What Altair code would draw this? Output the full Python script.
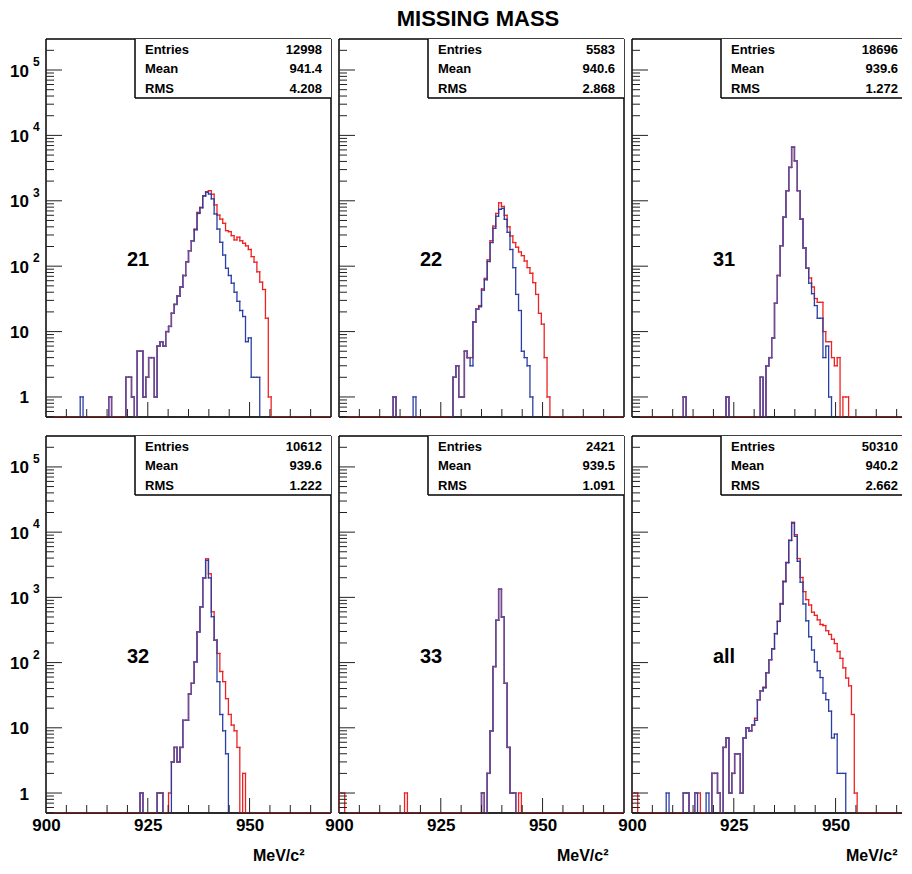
import altair as alt
import pandas as pd

FONT = "Liberation Sans"
RED = "#ee2222"
BLUE = "#2a3fa5"
BOTH = "#6e4c98"   # where the two histograms coincide

# ---------------- histogram binning ----------------
X_MIN, X_MAX = 900.0, 970.0
BIN_WIDTH = 0.7
N_BINS = 100
Y_MIN, Y_MAX = 0.494, 2.98e5
EMPTY = 0.3  # empty bins rest on the frame floor (clamped log scale)

# ---------------- data: counts per 0.7 MeV bin, starting at bin *_FROM ----------------
RED_21_FROM = 22
RED_21 = [1, 0, 0, 0, 0, 0, 2, 2, 1, 0, 5, 5, 1, 2, 4, 4, 1, 6,
          7, 6, 10, 12, 19, 26, 35, 48, 72, 117,
          173, 245, 370, 665, 795, 1200, 1380, 1430, 1260, 865,
          605, 525, 452, 350, 337, 293, 252, 277, 245, 224,
          205, 180, 140, 115, 82, 57, 44, 16, 1]
BLUE_21_FROM = 12
BLUE_21 = [1, 0, 0, 0, 0, 0, 0, 0, 0, 0, 1, 0, 0, 0, 0, 0,
           2, 2, 1, 0, 5, 5, 1, 2, 4, 4, 1, 6,
           7, 6, 10, 12, 19, 26, 35, 48, 72, 117,
           173, 245, 360, 640, 780, 1180, 1350, 1270, 1070, 630,
           370, 232, 148, 93, 72, 55, 40, 29, 21, 17,
           7, 8, 2, 2, 2]

RED_22_FROM = 19
RED_22 = [1, 0, 0, 0, 0, 0, 0, 0, 0, 0, 0, 0, 0, 0, 0, 0, 0, 0, 0, 0, 0,
          2, 3, 1, 1, 5, 4, 4, 14, 22, 25,
          45, 65, 125, 245, 410, 640, 930, 820, 600, 400,
          290, 230, 195, 165, 145, 120, 95, 78, 56, 37,
          19, 13, 4, 1]
BLUE_22_FROM = 19
BLUE_22 = [1, 0, 0, 0, 0, 0, 0, 1, 0, 0, 0, 0, 0, 0, 0, 0, 0, 0, 0, 0, 0,
           2, 3, 1, 1, 5, 4, 3, 14, 22, 24,
           43, 62, 118, 230, 380, 580, 740, 767, 520, 330,
           180, 95, 37, 21, 5, 4, 3, 1]

RED_31_FROM = 18
RED_31 = [1, 0, 0, 0, 0, 0, 0, 0, 0, 0, 0, 0, 0, 0, 0, 1,
          0, 0, 0, 0, 0, 0, 0, 0, 0, 0, 0,
          2, 0, 3, 4, 8, 27, 72, 206, 560, 1430,
          3240, 6600, 4100, 1430, 525, 190, 93, 66, 48, 32,
          28, 28, 10, 7, 7, 4, 3, 4, 0, 1, 1]
BLUE_31_FROM = 18
BLUE_31 = [1, 0, 0, 0, 0, 0, 0, 0, 0, 0, 0, 0, 0, 0, 0, 1,
           0, 0, 0, 0, 0, 0, 0, 0, 0, 0, 0,
           2, 0, 3, 4, 8, 27, 72, 206, 560, 1430,
           3240, 6600, 4100, 1430, 525, 190, 93, 55, 38, 25,
           16, 16, 4, 6, 1]

RED_32_FROM = 33
RED_32 = [1, 0, 0, 0, 0, 0, 1, 1, 0, 0, 1,
          3, 5, 3, 5, 13, 13, 33, 48, 103, 297,
          715, 1990, 3900, 2300, 600, 220, 138, 73, 51, 28,
          16, 11, 9, 5, 0, 2]
BLUE_32_FROM = 33
BLUE_32 = [1, 0, 0, 0, 0, 0, 1, 1, 0, 0, 0,
           3, 5, 3, 5, 13, 13, 33, 48, 103, 297,
           715, 1990, 3700, 1990, 505, 220, 51, 16, 9, 4]

RED_33_FROM = 0
RED_33 = [1, 1, 0, 0, 0, 0, 0, 0, 0, 0, 0, 0, 0, 0, 0, 0, 0, 0, 0, 0, 0, 0, 0,
          1, 0, 0, 0, 0, 0, 0, 0, 0, 0, 0, 0, 0, 0, 0, 0, 0, 0, 0, 0, 0, 0, 0, 0, 0, 0, 0,
          1, 0, 2, 9, 87, 445, 1330, 500, 48, 5, 1, 1, 0, 1]
BLUE_33_FROM = 50
BLUE_33 = [1, 0, 2, 9, 87, 445, 1330, 500, 48, 5, 1, 1]

RED_ALL_FROM = 0
RED_ALL = [1, 1, 0, 0, 0, 0, 0, 0, 0, 0, 0, 0, 0, 0, 0, 0, 0, 0,
           1, 1, 0, 0, 1, 1, 0, 0, 0, 0,
           2, 2, 1, 0, 5, 7, 1, 2, 4, 4, 1, 7,
           10, 9, 11, 14, 27, 37, 42, 70, 111, 163,
           279, 430, 806, 1776, 3437, 7515, 14140, 9150, 3938, 2015,
           1224, 922, 764, 592, 530, 452, 384, 370, 308, 270,
           228, 196, 148, 116, 83, 58, 44, 16, 1]
BLUE_ALL_FROM = 12
BLUE_ALL = [1, 0, 0, 0, 0, 0,
            1, 1, 0, 0, 1, 0, 0, 0, 1, 0,
            2, 2, 1, 0, 5, 7, 1, 2, 4, 4, 1, 7,
            10, 9, 11, 13, 27, 37, 41, 70, 111, 162,
            277, 427, 789, 1736, 3392, 7435, 13720, 8627, 3573, 1710,
            792, 437, 249, 156, 102, 75, 59, 34, 27, 18,
            7, 8, 2, 2, 2]

STAT_NAMES = ["Entries", "Mean", "RMS"]
STATS_21 = ["12998", "941.4", "4.208"]
STATS_22 = ["5583", "940.6", "2.868"]
STATS_31 = ["18696", "939.6", "1.272"]
STATS_32 = ["10612", "939.6", "1.222"]
STATS_33 = ["2421", "939.5", "1.091"]
STATS_ALL = ["50310", "940.2", "2.662"]

Y_DECADES = [1, 10, 100, 1000, 10000, 100000]
Y_BASE = ["1", "10", "10", "10", "10", "10"]
Y_EXP = ["", "", "2", "3", "4", "5"]
Y_MINOR = [m * d for d in [0.1, 1, 10, 100, 1000, 10000, 100000]
           for m in range(2, 10) if Y_MIN < m * d < Y_MAX]
X_LABELS = [900, 925, 950]
X_MAJOR = [925, 950]
X_MINOR = [905, 910, 915, 920, 930, 935, 940, 945, 955, 960, 965]
TITLE = "MISSING MASS"
AXIS_TITLE = "MeV/c²"

W = 285                 # full panel width (70 MeV)
W_CUT = 270             # right column is cut by the page edge
PX_PER_MEV = W / (X_MAX - X_MIN)
ONE = pd.DataFrame({"k": [0]})


def full_counts(start, counts):
    out = [0] * N_BINS
    for i, c in enumerate(counts):
        out[start + i] = c
    return out


def step_segments(red, blue, x_hi):
    """Step-outline segments of both histograms; shared pieces tagged 'both'."""
    r = full_counts(*red)
    b = full_counts(*blue)
    edges = [min(X_MIN + BIN_WIDTH * i, x_hi) for i in range(N_BINS + 1)]
    lv = lambda c: c if c > 0 else EMPTY
    rows = {"red": [], "blue": [], "both": []}

    def add(tag, x1, x2, y1, y2):
        rows[tag].append({"s": tag, "x": x1, "x2": x2, "y": lv(y1), "y2": lv(y2)})

    for tag, own, other in (("red", r, b), ("blue", b, r)):
        for i in range(N_BINS):
            if own[i] > 0 or tag == "red":
                add(tag, edges[i], edges[i + 1], own[i], own[i])
            prev = own[i - 1] if i > 0 else 0
            if prev != own[i]:
                add(tag, edges[i], edges[i], prev, own[i])
    for i in range(N_BINS):
        if r[i] == b[i] and r[i] > 0:
            add("both", edges[i], edges[i + 1], r[i], r[i])
        pr = r[i - 1] if i > 0 else 0
        pb = b[i - 1] if i > 0 else 0
        if pr == pb and r[i] == b[i] and pr != r[i]:
            add("both", edges[i], edges[i], pr, r[i])
    return pd.DataFrame(rows["red"] + rows["blue"] + rows["both"])


def hrule(x0, x1, y, **kw):
    return alt.Chart(ONE).mark_rule(**kw).encode(x=alt.value(x0), x2=alt.value(x1), y=alt.value(y))


def vrule(x, y0, y1, **kw):
    return alt.Chart(ONE).mark_rule(**kw).encode(x=alt.value(x), y=alt.value(y0), y2=alt.value(y1))


def panel(name, red, blue, stats, height, first_col, bottom_row, cut=False,
          title_x=None, with_title=False):
    w = W_CUT if cut else W
    x_hi = X_MIN + w / PX_PER_MEV
    xs = alt.Scale(domain=[X_MIN, x_hi], nice=False, zero=False)
    ys = alt.Scale(type="log", domain=[Y_MIN, Y_MAX], nice=False, clamp=True)
    if bottom_row:
        xaxis = alt.Axis(values=X_LABELS, format="d", labelFont=FONT, labelFontSize=17,
                         labelFontWeight="bold", labelColor="black", labelPadding=12.5,
                         labelBaseline="middle", labelFlush=False, labelOverlap=False,
                         ticks=False, tickSize=0, domain=False, grid=False,
                         title=AXIS_TITLE, titleFont=FONT, titleFontSize=16,
                         titleFontWeight="bold", titleColor="black", titleAlign="right",
                         titleAnchor="end", titleX=title_x, titleY=42, titleBaseline="middle")
    else:
        xaxis = None

    def X(f):
        return alt.X(f, type="quantitative", scale=xs, axis=xaxis)

    def Y(f):
        return alt.Y(f, type="quantitative", scale=ys, axis=None)

    frame = dict(color="black", strokeWidth=1.5)
    layers = [hrule(0, w, 0, **frame), hrule(0, w, height, **frame), vrule(0, 0, height, **frame)]
    if not cut:
        layers.append(vrule(w, 0, height, **frame))
    layers.append(alt.Chart(step_segments(red, blue, x_hi)).mark_rule(
        strokeWidth=1.3, strokeCap="square", clip=True).encode(
        x=X("x"), x2="x2:Q", y=Y("y"), y2="y2:Q",
        color=alt.Color("s:N", scale=alt.Scale(domain=["red", "blue", "both"],
                                               range=[RED, BLUE, BOTH]), legend=None)))
    layers.append(hrule(0, w, height, color="black", strokeWidth=1.5, opacity=0.45))
    # y ticks (inside the frame)
    tick = dict(color="#222", strokeWidth=1)
    layers.append(alt.Chart(pd.DataFrame({"v": Y_DECADES})).mark_rule(**tick).encode(
        y=Y("v"), x=alt.value(0), x2=alt.value(16)))
    layers.append(alt.Chart(pd.DataFrame({"v": Y_MINOR})).mark_rule(**tick).encode(
        y=Y("v"), x=alt.value(0), x2=alt.value(8)))
    # x ticks
    layers.append(alt.Chart(pd.DataFrame({"v": X_MAJOR})).mark_rule(**tick).encode(
        x=X("v"), y=alt.value(height), y2=alt.value(height - 15)))
    layers.append(alt.Chart(pd.DataFrame({"v": X_MINOR})).mark_rule(**tick).encode(
        x=X("v"), y=alt.value(height), y2=alt.value(height - 8)))
    # statistics box
    layers.append(alt.Chart(ONE).mark_rect(fill="white").encode(
        x=alt.value(89), x2=alt.value(w), y=alt.value(0), y2=alt.value(59)))
    layers.append(vrule(89, 0, 59, **frame))
    layers.append(hrule(89, w, 59, **frame))
    vx = min(276, w - 4)
    for r, py in enumerate([10.5, 30, 49.5]):
        row = pd.DataFrame({"k": [STAT_NAMES[r]], "v": [stats[r]]})
        layers.append(alt.Chart(row).mark_text(
            align="left", baseline="middle", font=FONT, fontSize=13, fontWeight="bold", color="black"
        ).encode(text="k:N", x=alt.value(99), y=alt.value(py)))
        layers.append(alt.Chart(row).mark_text(
            align="right", baseline="middle", font=FONT, fontSize=13, fontWeight="bold", color="black"
        ).encode(text="v:N", x=alt.value(vx), y=alt.value(py)))
    # panel label
    layers.append(alt.Chart(pd.DataFrame({"t": [name]})).mark_text(
        align="center", baseline="middle", font=FONT, fontSize=20, fontWeight="bold", color="black"
    ).encode(text="t:N", x=alt.value(92), y=alt.value(221)))
    if first_col:
        ylab = pd.DataFrame({"v": Y_DECADES, "b": Y_BASE, "e": Y_EXP})
        layers.append(alt.Chart(ylab).mark_text(
            align="right", baseline="middle", font=FONT, fontSize=17, fontWeight="bold", color="black", dy=1.5
        ).encode(y=Y("v"), x=alt.value(-17), text="b:N"))
        layers.append(alt.Chart(ylab).mark_text(
            align="left", baseline="middle", font=FONT, fontSize=12, fontWeight="bold", color="black", dy=-8
        ).encode(y=Y("v"), x=alt.value(-13), text="e:N"))
    if with_title:
        layers.append(alt.Chart(pd.DataFrame({"t": [TITLE]})).mark_text(
            align="center", baseline="middle", font=FONT, fontSize=22, fontWeight="bold", color="black"
        ).encode(text="t:N", x=alt.value(139), y=alt.value(-20)))
    return alt.layer(*layers).properties(width=w, height=height)


H1, H2 = 378, 377
p21 = panel("21", (RED_21_FROM, RED_21), (BLUE_21_FROM, BLUE_21), STATS_21, H1, True, False)
p22 = panel("22", (RED_22_FROM, RED_22), (BLUE_22_FROM, BLUE_22), STATS_22, H1, False, False, with_title=True)
p31 = panel("31", (RED_31_FROM, RED_31), (BLUE_31_FROM, BLUE_31), STATS_31, H1, False, False, cut=True)
p32 = panel("32", (RED_32_FROM, RED_32), (BLUE_32_FROM, BLUE_32), STATS_32, H2, True, True, title_x=258)
p33 = panel("33", (RED_33_FROM, RED_33), (BLUE_33_FROM, BLUE_33), STATS_33, H2, False, True, title_x=269)
pall = panel("all", (RED_ALL_FROM, RED_ALL), (BLUE_ALL_FROM, BLUE_ALL), STATS_ALL, H2, False, True,
             cut=True, title_x=265)

chart = alt.concat(p21, p22, p31, p32, p33, pall, columns=3,
                   spacing={"row": 19, "column": 8}, bounds="flush").properties(
    padding={"left": 2, "top": 0, "right": 0, "bottom": 0}
).configure_view(stroke=None)

chart.save("out.html", embed_options={"renderer": "svg", "actions": False})
